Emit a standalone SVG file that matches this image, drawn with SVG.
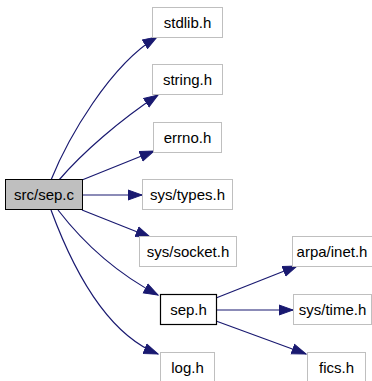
<svg xmlns="http://www.w3.org/2000/svg" width="372" height="381" viewBox="0 0 372 381">
  <style>
    .box { fill: #ffffff; stroke: #bfbfbf; stroke-width: 1; }
    .main { fill: #bfbfbf; stroke: #000000; stroke-width: 1; }
    .hdr { fill: #ffffff; stroke: #000000; stroke-width: 1.2; }
    .lbl { font-family: "Liberation Sans", Arial, sans-serif; font-size: 15px; fill: #000000; text-anchor: middle; }
    .edge { fill: none; stroke: #191970; stroke-width: 1.2; marker-end: url(#arrow); }
  </style>
  <defs>
    <!-- filled triangular arrowhead, tip at the path end -->
    <marker id="arrow" markerUnits="userSpaceOnUse" markerWidth="16" markerHeight="12" viewBox="0 0 16 12" refX="14.5" refY="6" orient="auto">
      <path d="M0.5,1 L14.5,6 L0.5,11 Z" fill="#191970" stroke="#191970" stroke-width="1"/>
    </marker>
  </defs>
  <rect width="372" height="381" fill="#ffffff"/>

  <g id="edges">
    <path class="edge" d="M51,180 C68,138 110,65 157,37"/>
    <path class="edge" d="M59,180 C82,153 120,120 158,95"/>
    <path class="edge" d="M82,180 L154,151"/>
    <path class="edge" d="M82,195 L142,195"/>
    <path class="edge" d="M82,210 L150,237"/>
    <path class="edge" d="M58,210 C85,245 120,275 158,295"/>
    <path class="edge" d="M51,210 C75,275 110,335 158,354"/>
    <path class="edge" d="M216,298 L297,266"/>
    <path class="edge" d="M216,310 L293,310"/>
    <path class="edge" d="M216,321 L306,354"/>
  </g>

  <g id="node-src-sep-c">
    <rect class="main" x="5.5" y="179.5" width="77" height="30"/>
    <text class="lbl" x="44" y="200">src/sep.c</text>
  </g>
  <g id="node-stdlib-h">
    <rect class="box" x="152.5" y="7.5" width="70" height="30"/>
    <text class="lbl" x="187.5" y="28">stdlib.h</text>
  </g>
  <g id="node-string-h">
    <rect class="box" x="152.5" y="64.5" width="70" height="30"/>
    <text class="lbl" x="187.5" y="85">string.h</text>
  </g>
  <g id="node-errno-h">
    <rect class="box" x="153.5" y="122.5" width="68" height="30"/>
    <text class="lbl" x="187.5" y="143">errno.h</text>
  </g>
  <g id="node-sys-types-h">
    <rect class="box" x="142.5" y="179.5" width="90" height="30"/>
    <text class="lbl" x="187.5" y="200">sys/types.h</text>
  </g>
  <g id="node-sys-socket-h">
    <rect class="box" x="139.5" y="236.5" width="97" height="30"/>
    <text class="lbl" x="188" y="257">sys/socket.h</text>
  </g>
  <g id="node-sep-h">
    <rect class="hdr" x="160.5" y="294.5" width="56" height="30"/>
    <text class="lbl" x="188.5" y="315">sep.h</text>
  </g>
  <g id="node-log-h">
    <rect class="box" x="160.5" y="352.5" width="54" height="30"/>
    <text class="lbl" x="187.5" y="373">log.h</text>
  </g>
  <g id="node-arpa-inet-h">
    <rect class="box" x="292.5" y="236.5" width="82" height="30"/>
    <text class="lbl" x="332" y="257">arpa/inet.h</text>
  </g>
  <g id="node-sys-time-h">
    <rect class="box" x="293.5" y="294.5" width="78" height="30"/>
    <text class="lbl" x="332.5" y="315">sys/time.h</text>
  </g>
  <g id="node-fics-h">
    <rect class="box" x="307.5" y="352.5" width="58" height="30"/>
    <text class="lbl" x="336.5" y="373">fics.h</text>
  </g>
</svg>
